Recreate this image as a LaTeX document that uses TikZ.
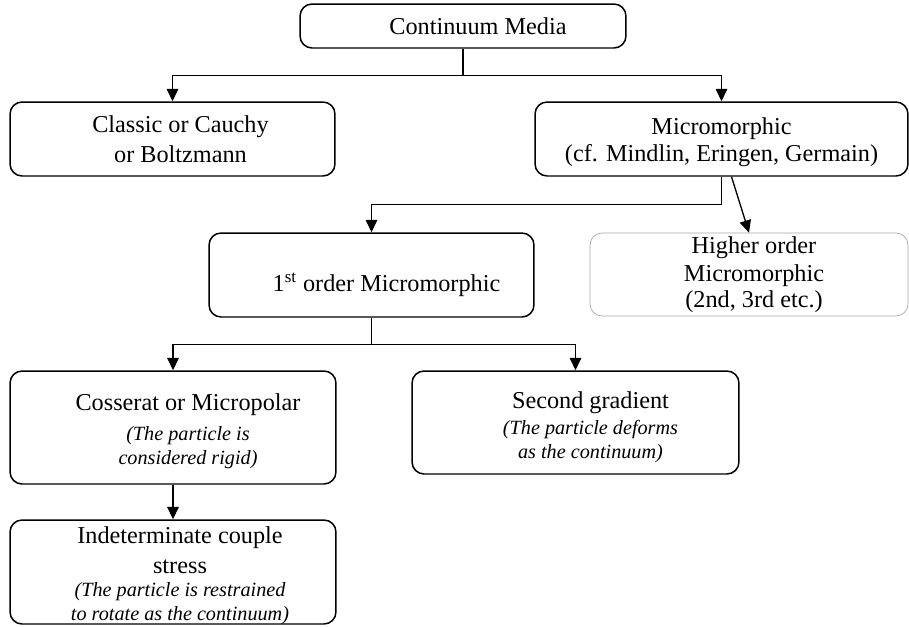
\documentclass[tikz,border=0pt]{standalone}
\usepackage{fontspec}
\setmainfont{Liberation Serif}
\usetikzlibrary{arrows.meta}
\newcommand{\bigtxt}{\fontsize{13.8}{17}\selectfont}
\newcommand{\smalltxt}{\fontsize{11.5}{13.5}\selectfont\itshape}
\begin{document}
\begin{tikzpicture}[x=0.02cm, y=-0.02cm]
\tikzset{boite/.style={draw, rounded corners=0.24cm, line width=0.85pt, inner sep=0pt},
  boitegrise/.style={boite, draw=gray!70, line width=0.4pt},
  texte/.style={align=center, inner sep=0pt, font=\bigtxt},
  lien/.style={line width=0.75pt, -{Triangle[length=7pt, width=6.5pt]}}}
\useasboundingbox (0,0) rectangle (909,626);
% boxes
\node[boite, minimum width=6.52cm, minimum height=0.88cm] (CM) at (463,26) {};
\node[boite, minimum width=6.5cm, minimum height=1.48cm] (CL) at (172.5,139) {};
\node[boite, minimum width=7.46cm, minimum height=1.48cm] (MM) at (721.5,139) {};
\node[boite, minimum width=6.5cm, minimum height=1.68cm] (FO) at (371.5,275) {};
\node[boitegrise, minimum width=6.36cm, minimum height=1.66cm] (HO) at (749,274.5) {};
\node[boite, minimum width=6.52cm, minimum height=2.26cm] (CO) at (173,427.5) {};
\node[boite, minimum width=6.54cm, minimum height=2.06cm] (SG) at (575.5,422.5) {};
\node[boite, minimum width=6.52cm, minimum height=2.08cm] (IC) at (173,572) {};
% texts
\node[texte] (CMt) at ([xshift=0.3cm]CM.center) {Continuum Media};
\node[texte] (CLt) at ([xshift=0.16cm]CL.center) {Classic or Cauchy\\or Boltzmann};
\node[texte] (MMt) at ([yshift=-0.07cm]MM.center) {Micromorphic\\[-1.5pt](cf. Mindlin, Eringen, Germain)};
\node[texte] (FOt) at ([xshift=0.3cm, yshift=-0.2cm]FO.center) {1\textsuperscript{st} order Micromorphic};
\node[texte] (HOt) at ([xshift=0.1cm]HO.center) {Higher order\\[-1pt]Micromorphic\\[-2.5pt](2nd, 3rd etc.)};
\node[texte] (COt) at ([xshift=0.3cm, yshift=-0.07cm]CO.center) {Cosserat or Micropolar\\{\smalltxt (The particle is}\\[-3.5pt]{\smalltxt considered rigid)}};
\node[texte] (SGt) at ([xshift=0.3cm, yshift=-0.09cm]SG.center) {Second gradient\\[-2pt]{\smalltxt (The particle deforms}\\[-3.5pt]{\smalltxt as the continuum)}};
\node[texte] (ICt) at ([xshift=0.14cm, yshift=-0.08cm]IC.center) {Indeterminate couple\\stress\\[-4pt]{\smalltxt (The particle is restrained}\\[-3.3pt]{\smalltxt to rotate as the continuum)}};
% arrows
\draw[lien] (CM.south) -- ++(0,27) -| (CL.north);
\draw[lien] (CM.south) -- ++(0,27) -| (MM.north);
\draw[lien] (MM.south) -- ++(0,28) -| (FO.north);
\draw[lien] ([xshift=0.2cm]MM.south) -- (HO.north);
\draw[lien] (FO.south) -- ++(0,27) -| (CO.north);
\draw[lien] (FO.south) -- ++(0,27) -| (SG.north);
\draw[lien] (CO.south) -- (IC.north);
\end{tikzpicture}
\end{document}
